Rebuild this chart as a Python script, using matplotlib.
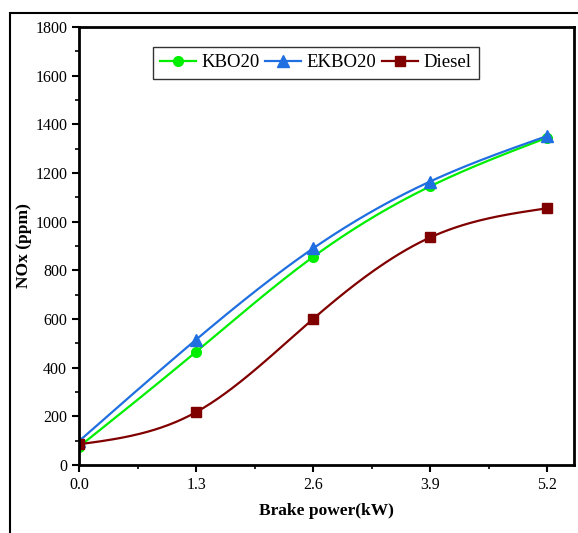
import numpy as np
import matplotlib.pyplot as plt
from matplotlib.patches import Rectangle
from matplotlib.ticker import MultipleLocator

plt.rcParams['font.family'] = ['Liberation Serif', 'DejaVu Serif']

power = [0.0, 1.3, 2.6, 3.9, 5.2]
kbo20 = [75, 465, 855, 1145, 1345]
ekbo20 = [98, 515, 890, 1165, 1352]
diesel = [85, 217, 600, 935, 1055]


def spline(x, y, n=200):
    # natural cubic spline, only for drawing smooth lines through the points
    x = np.asarray(x, float)
    y = np.asarray(y, float)
    k = len(x)
    h = np.diff(x)
    A = np.zeros((k, k))
    b = np.zeros(k)
    A[0, 0] = A[-1, -1] = 1
    for i in range(1, k - 1):
        A[i, i - 1] = h[i - 1]
        A[i, i] = 2 * (h[i - 1] + h[i])
        A[i, i + 1] = h[i]
        b[i] = 3 * ((y[i + 1] - y[i]) / h[i] - (y[i] - y[i - 1]) / h[i - 1])
    c = np.linalg.solve(A, b)
    xs = np.linspace(x[0], x[-1], n)
    ys = np.empty_like(xs)
    for j, xv in enumerate(xs):
        i = min(np.searchsorted(x, xv, side='right') - 1, k - 2)
        d = xv - x[i]
        bi = (y[i + 1] - y[i]) / h[i] - h[i] * (2 * c[i] + c[i + 1]) / 3
        di = (c[i + 1] - c[i]) / (3 * h[i])
        ys[j] = y[i] + bi * d + c[i] * d ** 2 + di * d ** 3
    return xs, ys


fig = plt.figure(figsize=(5.78, 5.33), dpi=100)
ax = fig.add_axes([0.1367, 0.1276, 0.8565, 0.8217])

series = [
    (kbo20, 'KBO20', '#00ee00', 'o', 7),
    (ekbo20, 'EKBO20', '#1f6fe0', '^', 8),
    (diesel, 'Diesel', '#800000', 's', 6.5),
]
handles = []
for vals, name, col, mk, ms in series:
    xs, ys = spline(power, vals)
    ax.plot(xs, ys, color=col, lw=1.6)
    ax.plot(power, vals, mk, color=col, ms=ms, ls='none')
    h, = ax.plot([], [], color=col, lw=1.6, marker=mk, ms=ms, label=name)
    handles.append(h)

ax.set_xlim(0, 5.5)
ax.set_ylim(0, 1800)
ax.set_xticks(power)
ax.set_xticklabels(['0.0', '1.3', '2.6', '3.9', '5.2'])
ax.xaxis.set_minor_locator(MultipleLocator(0.65))
ax.yaxis.set_major_locator(MultipleLocator(200))
ax.yaxis.set_minor_locator(MultipleLocator(100))
ax.tick_params(which='major', direction='out', length=5, width=1.5, labelsize=11.5)
ax.tick_params(which='minor', direction='out', length=3, width=1.2)
for s in ax.spines.values():
    s.set_linewidth(2)

ax.set_xlabel('Brake power(kW)', fontsize=12.5, fontweight='bold', labelpad=7)
ax.set_ylabel('NOx (ppm)', fontsize=12.5, fontweight='bold', labelpad=2)

leg = ax.legend(handles=handles, ncol=3, loc='upper center',
                bbox_to_anchor=(0.478, 0.955), fontsize=13.5, frameon=True,
                fancybox=False, edgecolor='black', handlelength=1.9,
                columnspacing=0.3, handletextpad=0.3, borderpad=0.4,
                borderaxespad=0)
leg.get_frame().set_linewidth(1)

frame = Rectangle((10 / 578, -0.2), 1.2, 1 - 13 / 533 + 0.2,
                  transform=fig.transFigure, fill=False, lw=1.5,
                  edgecolor='black', clip_on=False)
fig.patches.append(frame)

fig.savefig('out.png', dpi=100)
